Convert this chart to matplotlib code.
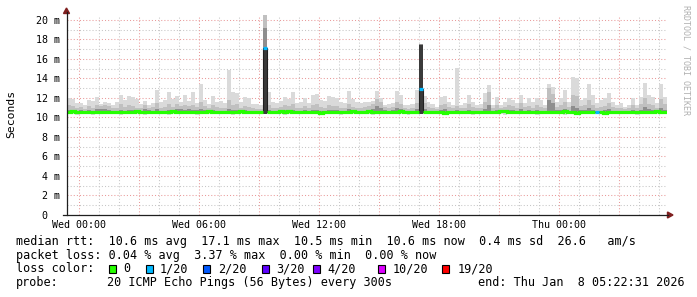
import numpy as np
import matplotlib
matplotlib.use("Agg")
import matplotlib.pyplot as plt
from matplotlib.patches import Rectangle, Polygon
from matplotlib.lines import Line2D

plt.rcParams['font.family'] = ['DejaVu Sans Mono']

# ---------------- data ----------------
START_HOUR = -0.6      # hours relative to Wed 00:00
STEP_HOURS = 0.2
END_HOUR = 29.4
Y_MAX = 20.5           # ms

smoke_max = [
    12.0, 11.9, 11.5, 11.5, 11.3, 11.8, 11.7, 12.1, 11.4, 11.6,
    11.5, 11.3, 11.6, 12.3, 11.8, 12.2, 12.1, 11.9, 11.4, 11.7,
    11.3, 11.5, 12.8, 11.6, 11.8, 12.6, 11.9, 12.2, 11.6, 12.3,
    11.7, 12.6, 11.5, 13.4, 11.8, 11.4, 12.2, 11.6, 11.7, 11.5,
    14.9, 12.6, 12.5, 11.6, 12.1, 12.0, 11.4, 11.4, 11.3, 20.5,
    12.6, 11.6, 11.5, 11.7, 12.1, 11.9, 12.6, 11.5, 11.6, 12.0,
    11.5, 12.3, 12.4, 11.8, 11.7, 12.2, 12.1, 12.0, 11.6, 11.5,
    12.7, 11.9, 11.6, 11.5, 11.6, 11.6, 11.7, 12.7, 12.0, 11.3,
    11.4, 11.5, 12.7, 12.3, 11.3, 11.3, 11.4, 12.8, 17.5, 12.2,
    11.6, 11.4, 11.1, 12.1, 12.2, 11.6, 11.3, 15.1, 11.3, 11.5,
    12.3, 11.6, 11.3, 11.4, 12.5, 13.3, 11.3, 12.1, 11.3, 11.6,
    12.0, 11.8, 11.5, 12.3, 11.5, 12.0, 11.6, 12.0, 11.8, 11.3,
    13.4, 13.1, 11.6, 12.0, 12.8, 11.6, 14.1, 14.0, 11.8, 12.0,
    13.4, 12.3, 11.5, 11.8, 12.0, 12.5, 11.6, 11.3, 11.5, 11.1,
    11.3, 12.0, 11.3, 12.1, 13.5, 12.3, 12.1, 11.5, 13.4, 12.1,
]
smoke_mid = [
    11.3, 11.2, 11.0, 11.1, 10.9, 11.2, 11.0, 11.3, 11.2, 11.3,
    11.2, 11.0, 11.0, 11.4, 11.1, 11.3, 11.2, 11.0, 11.0, 11.3,
    11.0, 11.1, 11.5, 11.0, 11.1, 11.4, 11.1, 11.4, 11.2, 11.3,
    11.2, 11.3, 11.1, 11.6, 11.2, 11.0, 11.3, 11.1, 11.0, 11.0,
    11.8, 11.3, 11.4, 11.0, 11.2, 11.1, 11.0, 10.9, 10.9, 20.5,
    11.3, 11.0, 11.0, 11.1, 11.3, 11.2, 11.4, 11.0, 11.0, 11.2,
    11.0, 11.3, 11.4, 11.1, 11.0, 11.3, 11.2, 11.2, 11.0, 11.0,
    11.4, 11.1, 11.0, 11.0, 11.1, 11.2, 11.4, 11.9, 11.6, 11.1,
    11.0, 11.1, 11.6, 11.4, 11.0, 10.9, 11.0, 11.5, 17.5, 11.5,
    11.1, 11.0, 10.9, 11.3, 11.4, 11.1, 11.0, 11.2, 11.0, 11.0,
    11.4, 11.1, 11.0, 11.0, 11.6, 12.6, 11.0, 11.3, 11.0, 11.1,
    11.3, 11.2, 11.0, 11.5, 11.1, 11.2, 11.0, 11.3, 11.1, 11.0,
    13.0, 12.4, 11.1, 11.3, 11.6, 11.1, 12.3, 12.2, 11.2, 11.3,
    11.8, 11.3, 11.0, 11.1, 11.2, 11.5, 11.1, 11.0, 11.0, 10.9,
    11.0, 11.3, 11.0, 11.4, 12.0, 11.4, 11.3, 11.0, 11.9, 11.4,
]
smoke_dark = [
    10.8, 10.8, 10.7, 10.8, 10.7, 10.8, 10.7, 10.9, 10.9, 10.9,
    10.8, 10.7, 10.7, 10.8, 10.7, 10.8, 10.8, 10.7, 10.7, 10.9,
    10.8, 10.7, 10.9, 10.7, 10.7, 10.8, 10.7, 10.9, 10.9, 10.8,
    10.9, 10.8, 10.8, 10.9, 10.8, 10.7, 10.8, 10.7, 10.7, 10.7,
    10.9, 10.8, 10.8, 10.7, 10.8, 10.7, 10.7, 10.7, 10.7, 19.2,
    10.8, 10.7, 10.7, 10.7, 10.8, 10.8, 10.8, 10.7, 10.7, 10.8,
    10.7, 10.8, 10.8, 10.7, 10.7, 10.8, 10.8, 10.8, 10.7, 10.7,
    10.9, 10.7, 10.7, 10.7, 10.7, 10.8, 10.9, 11.2, 11.0, 10.8,
    10.7, 10.8, 11.0, 10.9, 10.7, 10.7, 10.7, 10.9, 17.5, 10.9,
    10.7, 10.7, 10.7, 10.8, 10.9, 10.7, 10.7, 10.8, 10.7, 10.7,
    10.8, 10.7, 10.7, 10.7, 10.9, 11.3, 10.7, 10.8, 10.7, 10.7,
    10.8, 10.8, 10.7, 10.9, 10.7, 10.8, 10.7, 10.8, 10.7, 10.7,
    11.8, 11.5, 10.8, 10.8, 10.9, 10.7, 11.2, 11.0, 10.8, 10.8,
    11.0, 10.8, 10.7, 10.7, 10.8, 10.9, 10.7, 10.7, 10.7, 10.7,
    10.7, 10.8, 10.7, 10.8, 11.1, 10.9, 10.8, 10.7, 11.0, 10.8,
]
# near-black core of the smoke (only rises above the median during the two spikes)
smoke_core = [
    10.6, 10.6, 10.6, 10.6, 10.6, 10.6, 10.6, 10.6, 10.6, 10.6,
    10.6, 10.6, 10.6, 10.6, 10.6, 10.6, 10.6, 10.6, 10.6, 10.6,
    10.6, 10.6, 10.6, 10.6, 10.6, 10.6, 10.6, 10.6, 10.6, 10.6,
    10.6, 10.6, 10.6, 10.6, 10.6, 10.6, 10.6, 10.6, 10.6, 10.6,
    10.6, 10.6, 10.6, 10.6, 10.6, 10.6, 10.6, 10.6, 10.6, 17.1,
    10.6, 10.6, 10.6, 10.6, 10.6, 10.6, 10.6, 10.6, 10.6, 10.6,
    10.6, 10.6, 10.6, 10.6, 10.6, 10.6, 10.6, 10.6, 10.6, 10.6,
    10.6, 10.6, 10.6, 10.6, 10.6, 10.6, 10.6, 10.6, 10.6, 10.6,
    10.6, 10.6, 10.6, 10.6, 10.6, 10.6, 10.6, 10.6, 17.4, 10.6,
    10.6, 10.6, 10.6, 10.6, 10.6, 10.6, 10.6, 10.6, 10.6, 10.6,
    10.6, 10.6, 10.6, 10.6, 10.6, 10.6, 10.6, 10.6, 10.6, 10.6,
    10.6, 10.6, 10.6, 10.6, 10.6, 10.6, 10.6, 10.6, 10.6, 10.6,
    10.6, 10.6, 10.6, 10.6, 10.6, 10.6, 10.6, 10.6, 10.6, 10.6,
    10.6, 10.6, 10.6, 10.6, 10.6, 10.6, 10.6, 10.6, 10.6, 10.6,
    10.6, 10.6, 10.6, 10.6, 10.6, 10.6, 10.6, 10.6, 10.6, 10.6,
]
smoke_min = [
    10.4, 10.4, 10.3, 10.4, 10.4, 10.4, 10.3, 10.4, 10.4, 10.4,
    10.4, 10.4, 10.4, 10.3, 10.4, 10.4, 10.4, 10.4, 10.4, 10.3,
    10.4, 10.4, 10.4, 10.4, 10.4, 10.3, 10.4, 10.4, 10.4, 10.4,
    10.4, 10.4, 10.3, 10.4, 10.4, 10.4, 10.4, 10.4, 10.4, 10.4,
    10.4, 10.3, 10.4, 10.4, 10.4, 10.4, 10.4, 10.4, 10.4, 10.4,
    10.4, 10.4, 10.4, 10.4, 10.3, 10.4, 10.4, 10.4, 10.4, 10.4,
    10.4, 10.4, 10.4, 10.3, 10.4, 10.4, 10.4, 10.4, 10.3, 10.4,
    10.4, 10.4, 10.4, 10.4, 10.4, 10.4, 10.3, 10.4, 10.4, 10.4,
    10.4, 10.4, 10.4, 10.4, 10.4, 10.3, 10.4, 10.4, 10.4, 10.4,
    10.4, 10.4, 10.4, 10.4, 10.3, 10.4, 10.4, 10.4, 10.4, 10.4,
    10.4, 10.3, 10.4, 10.4, 10.4, 10.4, 10.4, 10.4, 10.4, 10.3,
    10.4, 10.4, 10.4, 10.4, 10.4, 10.4, 10.4, 10.3, 10.4, 10.4,
    10.4, 10.4, 10.4, 10.4, 10.3, 10.4, 10.4, 10.3, 10.4, 10.4,
    10.4, 10.4, 10.4, 10.4, 10.3, 10.4, 10.4, 10.4, 10.4, 10.4,
    10.4, 10.4, 10.3, 10.4, 10.4, 10.4, 10.4, 10.4, 10.4, 10.4,
]
median_rtt = [
    10.6, 10.7, 10.6, 10.6, 10.6, 10.6, 10.6, 10.6, 10.6, 10.6,
    10.6, 10.6, 10.6, 10.6, 10.6, 10.6, 10.6, 10.7, 10.6, 10.6,
    10.6, 10.6, 10.6, 10.6, 10.6, 10.6, 10.7, 10.6, 10.6, 10.6,
    10.6, 10.6, 10.6, 10.6, 10.6, 10.7, 10.6, 10.6, 10.6, 10.6,
    10.6, 10.6, 10.6, 10.7, 10.6, 10.6, 10.6, 10.6, 10.6, 17.1,
    10.6, 10.6, 10.6, 10.7, 10.6, 10.7, 10.6, 10.6, 10.6, 10.6,
    10.6, 10.6, 10.6, 10.5, 10.6, 10.6, 10.6, 10.6, 10.6, 10.6,
    10.6, 10.7, 10.6, 10.6, 10.6, 10.7, 10.6, 10.6, 10.6, 10.6,
    10.6, 10.6, 10.6, 10.7, 10.6, 10.6, 10.6, 10.6, 12.9, 10.6,
    10.6, 10.6, 10.6, 10.6, 10.5, 10.6, 10.6, 10.6, 10.6, 10.6,
    10.6, 10.6, 10.6, 10.6, 10.6, 10.6, 10.6, 10.6, 10.7, 10.7,
    10.6, 10.6, 10.6, 10.6, 10.6, 10.6, 10.6, 10.6, 10.6, 10.6,
    10.6, 10.6, 10.6, 10.6, 10.7, 10.6, 10.6, 10.5, 10.6, 10.6,
    10.6, 10.6, 10.6, 10.6, 10.5, 10.6, 10.6, 10.6, 10.6, 10.6,
    10.6, 10.6, 10.6, 10.6, 10.6, 10.6, 10.6, 10.7, 10.6, 10.6,
]
loss_count = [
    0, 0, 0, 0, 0, 0, 0, 0, 0, 0,
    0, 0, 0, 0, 0, 0, 0, 0, 0, 0,
    0, 0, 0, 0, 0, 0, 0, 0, 0, 0,
    0, 0, 0, 0, 0, 0, 0, 0, 0, 0,
    0, 0, 0, 0, 0, 0, 0, 0, 0, 1,
    0, 0, 0, 0, 0, 0, 0, 0, 0, 0,
    0, 0, 0, 0, 0, 0, 0, 0, 0, 0,
    0, 0, 0, 0, 0, 0, 0, 0, 0, 0,
    0, 0, 0, 0, 0, 0, 0, 0, 1, 0,
    0, 0, 0, 0, 0, 0, 0, 0, 0, 0,
    0, 0, 0, 0, 0, 0, 0, 0, 0, 0,
    0, 0, 0, 0, 0, 0, 0, 0, 0, 0,
    0, 0, 0, 0, 0, 0, 0, 0, 0, 0,
    0, 0, 1, 0, 0, 0, 0, 0, 0, 0,
    0, 0, 0, 0, 0, 0, 0, 0, 0, 0,
]

loss_levels = [0, 1, 2, 3, 4, 10, 19]
loss_labels = ["0", "1/20", "2/20", "3/20", "4/20", "10/20", "19/20"]
loss_colors = ["#26ff00", "#00b8ff", "#0059ff", "#5e00ff", "#7e00ff", "#dd00ff", "#ff0000"]

x_tick_hours = [0, 6, 12, 18, 24]
x_tick_labels = ["Wed 00:00", "Wed 06:00", "Wed 12:00", "Wed 18:00", "Thu 00:00"]
y_tick_values = [0, 2, 4, 6, 8, 10, 12, 14, 16, 18, 20]
y_tick_labels = ["0  ", "2 m", "4 m", "6 m", "8 m", "10 m", "12 m", "14 m", "16 m", "18 m", "20 m"]

stat_line_rtt = "median rtt:  10.6 ms avg  17.1 ms max  10.5 ms min  10.6 ms now  0.4 ms sd  26.6   am/s"
stat_line_loss = "packet loss: 0.04 % avg  3.37 % max  0.00 % min  0.00 % now"
probe_label = "probe:"
probe_text = "20 ICMP Echo Pings (56 Bytes) every 300s"
end_text = "end: Thu Jan  8 05:22:31 2026"

# ---------------- figure ----------------
W, H = 697, 297
fig = plt.figure(figsize=(W / 100, H / 100), dpi=100)
fig.patch.set_facecolor("white")

def fx(px):
    return px / W

def fy(py):
    return 1 - py / H

ax = fig.add_axes([fx(66.5), fy(215), 600 / W, 200 / H])
ax.set_xlim(START_HOUR, END_HOUR)
ax.set_ylim(0, Y_MAX)
for s in ax.spines.values():
    s.set_visible(False)
ax.set_facecolor("white")

# grid
minor_h = [h for h in range(0, 30) if h % 3 != 0]
major_h = [h for h in range(0, 30) if h % 3 == 0]
minor_v = [v for v in range(1, 21) if v % 2 == 1]
major_v = [v for v in range(2, 21) if v % 2 == 0]
gcol = "#c6c6c6"
mcol = "#e99a9a"
ls = (0, (1, 2))
ax.vlines(minor_h, 0, Y_MAX, colors=gcol, linestyles=ls, lw=0.75, zorder=1)
ax.hlines(minor_v, START_HOUR, END_HOUR, colors=gcol, linestyles=ls, lw=0.75, zorder=1)
ax.vlines(major_h, 0, Y_MAX, colors=mcol, linestyles=ls, lw=0.75, zorder=1.1)
ax.hlines(major_v, START_HOUR, END_HOUR, colors=mcol, linestyles=ls, lw=0.75, zorder=1.1)

# smoke
n = len(median_rtt)
t = START_HOUR + STEP_HOURS * np.arange(n)
edges = np.append(t, END_HOUR)

def ext(v):
    v = np.asarray(v, dtype=float)
    return np.append(v, v[-1])

med = np.asarray(median_rtt)
smin = np.asarray(smoke_min)
lo = ext(smoke_min)
inner_lo = ext(med - 0.1)
ax.fill_between(edges, lo, ext(smoke_max), step="post", color="#dadada", lw=0, zorder=2)
ax.fill_between(edges, inner_lo, ext(smoke_mid), step="post", color="#c0c0c0", lw=0, zorder=2.1)
ax.fill_between(edges, inner_lo, ext(smoke_dark), step="post", color="#8e8e8e", lw=0, zorder=2.2)

core = np.asarray(smoke_core)
cm = core > 11.0
ax.bar(t[cm], core[cm] - smin[cm], bottom=smin[cm],
       width=STEP_HOURS, align="edge", color="#3a3a3a", lw=0, zorder=2.3)

# thin median line (visible only where the coloured line breaks)
ax.step(edges, ext(median_rtt), where="post", color="#202020", lw=0.8, zorder=3)

# coloured median by loss: continuous step paths for runs of equal loss level
loss = np.asarray(loss_count)
for lvl, col in zip(loss_levels, loss_colors):
    xs, ys = [], []
    k = 0
    while k < n:
        if loss[k] == lvl:
            while k < n and loss[k] == lvl:
                xs += [edges[k], edges[k + 1]]
                ys += [med[k], med[k]]
                k += 1
            xs.append(np.nan)
            ys.append(np.nan)
        else:
            k += 1
    if xs:
        ax.plot(xs, ys, color=col, lw=2.3, zorder=4, solid_capstyle="butt",
                solid_joinstyle="miter")

# ticks
ax.set_xticks(x_tick_hours, x_tick_labels)
ax.set_yticks(y_tick_values, y_tick_labels)
ax.tick_params(axis="x", length=0, pad=3.6, labelsize=7.2, colors="#000000")
ax.tick_params(axis="y", length=0, pad=4.7, labelsize=7.2, colors="#000000")

# axis lines & arrows
axis_col = "#1f1f1f"
fig.add_artist(Line2D([fx(62.7), fx(668)], [fy(215), fy(215)], color=axis_col, lw=0.9))
fig.add_artist(Line2D([fx(66.5), fx(66.5)], [fy(215), fy(12)], color=axis_col, lw=0.9))
arrow_col = "#7f1f1f"
fig.add_artist(Polygon([[fx(63.5), fy(13.5)], [fx(69.5), fy(13.5)], [fx(66.5), fy(8)]],
                       closed=True, color=arrow_col, transform=fig.transFigure))
fig.add_artist(Polygon([[fx(667.5), fy(212)], [fx(667.5), fy(218)], [fx(673), fy(215)]],
                       closed=True, color=arrow_col, transform=fig.transFigure))

# labels
fig.text(fx(11), fy(114), "Seconds", rotation=90, ha="center", va="center", fontsize=8.2)
fig.text(fx(686), fy(5), "RRDTOOL / TOBI OETIKER", rotation=270, ha="center", va="top",
         fontsize=6, color="#b0b0b0")

# legend
LFS = 8.5
fig.text(fx(16), fy(241.5), stat_line_rtt, ha="left", va="center", fontsize=LFS)
fig.text(fx(16), fy(255.2), stat_line_loss, ha="left", va="center", fontsize=LFS)
fig.text(fx(16), fy(269), "loss color:", ha="left", va="center", fontsize=LFS)
box_x = [108.7, 145.7, 203.0, 261.7, 312.7, 377.7, 442.3]
lab_x = [123.0, 160.0, 218.0, 276.0, 327.0, 392.3, 457.3]
for bx, lx, col, lab in zip(box_x, lab_x, loss_colors, loss_labels):
    fig.add_artist(Rectangle((fx(bx), fy(273)), 7 / W, 8 / H, transform=fig.transFigure,
                             facecolor=col, edgecolor="black", lw=0.8))
    fig.text(fx(lx), fy(269), lab, ha="left", va="center", fontsize=LFS)
fig.text(fx(16), fy(282.8), probe_label, ha="left", va="center", fontsize=LFS)
fig.text(fx(107.3), fy(282.8), probe_text, ha="left", va="center", fontsize=LFS)
fig.text(fx(478.3), fy(282.8), end_text, ha="left", va="center", fontsize=LFS)

fig.savefig("out.png", dpi=100, facecolor="white")
